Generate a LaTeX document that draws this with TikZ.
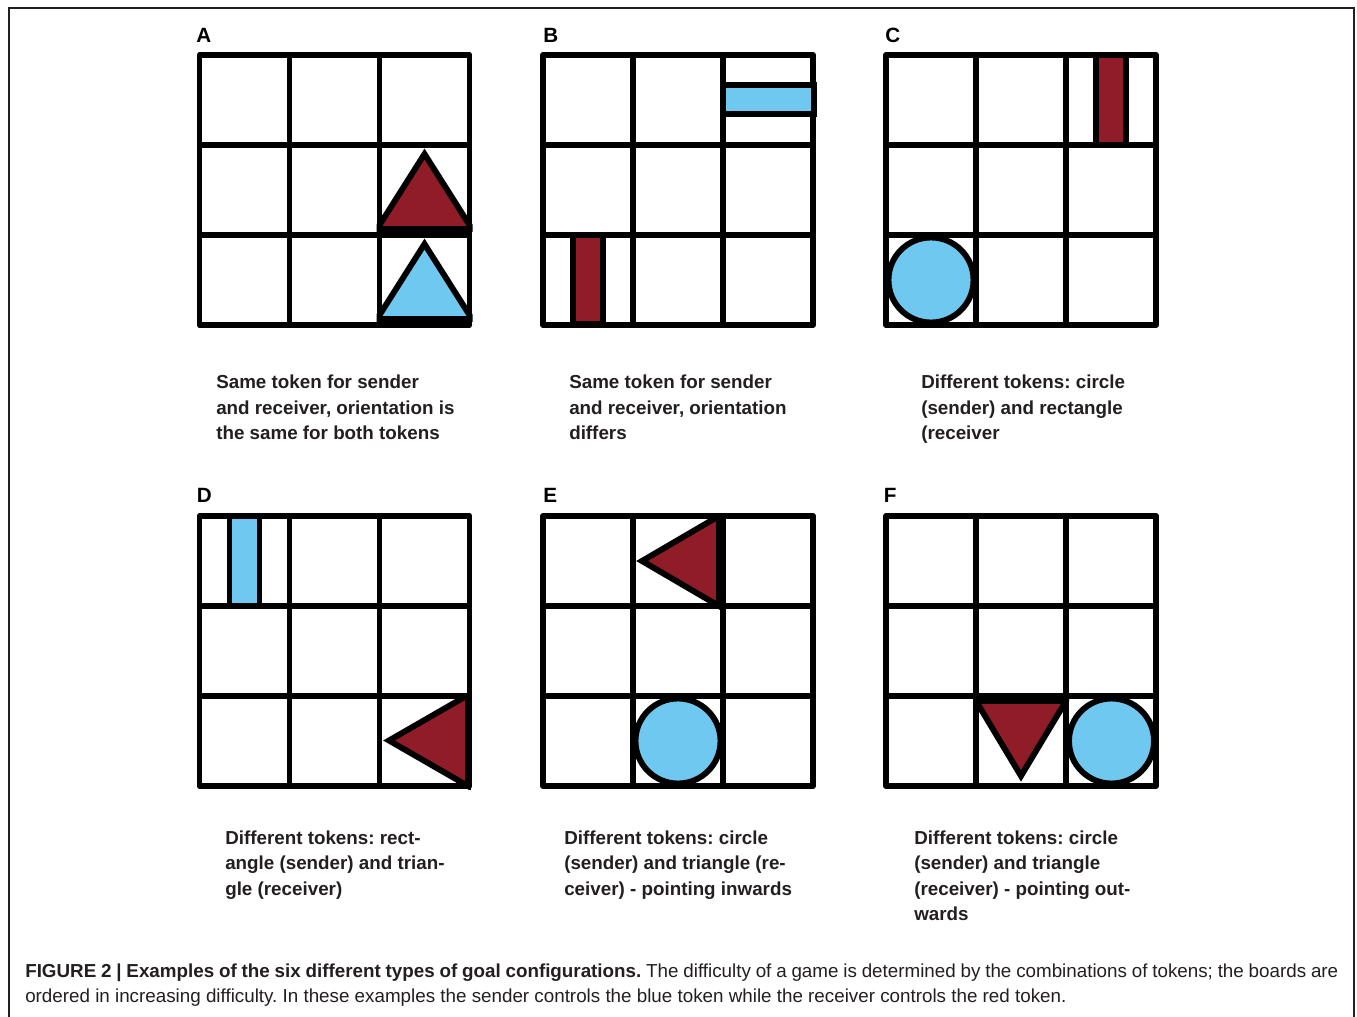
\documentclass[tikz,border=0pt]{standalone}
\usepackage{fontspec}
\setmainfont{Liberation Sans}
\frenchspacing
\definecolor{tokred}{HTML}{8F1C27}
\definecolor{tokblue}{HTML}{6EC8F0}
\definecolor{ink}{HTML}{231F20}
\newcommand\drawboard[2]{%
  \foreach \i in {1,2} {
    \draw[gridline] ({#1+90*\i},#2) -- ({#1+90*\i},{#2+270});
    \draw[gridline] (#1,{#2+90*\i}) -- ({#1+270},{#2+90*\i});
  }
  \draw[gridline] (#1,#2) rectangle ({#1+270},{#2+270});
}
\begin{document}
\begin{tikzpicture}[x=0.75pt,y=-0.75pt,
  gridline/.style={line width=4.4pt, draw=black, line join=round},
  tok/.style={line width=4.4pt, draw=black},
  redtok/.style={tok, fill=tokred},
  bluetok/.style={tok, fill=tokblue},
  ptext/.style={anchor=base west, inner sep=0pt, text=ink, font=\bfseries\fontsize{14.1}{16}\selectfont},
  plabel/.style={anchor=base west, inner sep=0pt, text=black, font=\bfseries\fontsize{15.5}{17}\selectfont},
  ctext/.style={anchor=base west, inner sep=0pt, text=ink, font=\fontsize{14.1}{16}\selectfont}]
\useasboundingbox (0,0) rectangle (1357,1017);
\fill[white] (0,0) rectangle (1357,1017);
\draw[ink, line width=1.6pt] (9,1030) -- (9,8) -- (1354,8) -- (1354,1030);

% boards
\drawboard{199.5}{55}
\drawboard{543}{55}
\drawboard{886}{55}
\drawboard{199.5}{516}
\drawboard{543}{516}
\drawboard{886}{516}

% A
\begin{scope}
  \clip (376.5,142) rectangle (472.5,238);
  \draw[redtok] (377,229) -- (472,229) -- (424.5,154) -- cycle;
\end{scope}
\begin{scope}
  \clip (376.5,232) rectangle (472.5,327);
  \draw[bluetok] (377,319) -- (472,319) -- (424.5,244) -- cycle;
\end{scope}
% B
\draw[bluetok] (723,85) rectangle (814,114);
\draw[redtok] (573,235) rectangle (603,324);
% C
\draw[redtok] (1096,55) rectangle (1126,145);
\draw[bluetok] (931,280) circle[radius=42.5];
% D
\draw[bluetok] (229.5,516) rectangle (259.5,606);
\begin{scope}
  \clip (376.5,693) rectangle (472.5,789);
  \draw[redtok] (389,740.5) -- (468,695) -- (468,786) -- cycle;
\end{scope}
% E
\begin{scope}
  \clip (630,513) rectangle (726,609);
  \draw[redtok] (642,561) -- (719,516) -- (719,606) -- cycle;
\end{scope}
\draw[bluetok] (678,741) circle[radius=42.5];
% F
\begin{scope}
  \clip (973,693) rectangle (1069,789);
  \draw[redtok] (976,701) -- (1066,701) -- (1021,776) -- cycle;
\end{scope}
\draw[bluetok] (1111.5,741) circle[radius=42.5];

% panel letters
\node[plabel] (lA) at (196,42.5) {A};
\node[plabel] (lB) at (543,42.5) {B};
\node[plabel] (lC) at (885,42.5) {C};
\node[plabel] (lD) at (196.5,502.5) {D};
\node[plabel] (lE) at (543,502.5) {E};
\node[plabel] (lF) at (883.5,502.5) {F};

% panel texts
\node[ptext] (a1) at (216,388) {Same token for sender};
\node[ptext] (a2) at (216,414) {and receiver, orientation is};
\node[ptext] (a3) at (216,439) {the same for both tokens};
\node[ptext] (b1) at (569,388) {Same token for sender};
\node[ptext] (b2) at (569,414) {and receiver, orientation};
\node[ptext] (b3) at (569,439) {differs};
\node[ptext] (c1) at (921,388) {Different tokens: circle};
\node[ptext] (c2) at (921,414) {(sender) and rectangle};
\node[ptext] (c3) at (921,439) {(receiver};
\node[ptext] (d1) at (225,844) {Different tokens: rect-};
\node[ptext] (d2) at (225,869.5) {angle (sender) and trian-};
\node[ptext] (d3) at (225,895) {gle (receiver)};
\node[ptext] (e1) at (564,844) {Different tokens: circle};
\node[ptext] (e2) at (564,869.5) {(sender) and triangle (re-};
\node[ptext] (e3) at (564,895) {ceiver) - pointing inwards};
\node[ptext] (f1) at (914,844) {Different tokens: circle};
\node[ptext] (f2) at (914,869.5) {(sender) and triangle};
\node[ptext] (f3) at (914,895) {(receiver) - pointing out-};
\node[ptext] (f4) at (914,920) {wards};

% caption
\node[ctext] (cap1) at (25,977) {\makebox[984.75pt][s]{\textbf{FIGURE 2 | Examples of the six different types of goal configurations.} The difficulty of a game is determined by the combinations of tokens; the boards are}};
\node[ctext] (cap2) at (25,1002) {ordered in increasing difficulty. In these examples the sender controls the blue token while the receiver controls the red token.};
\end{tikzpicture}
\end{document}
